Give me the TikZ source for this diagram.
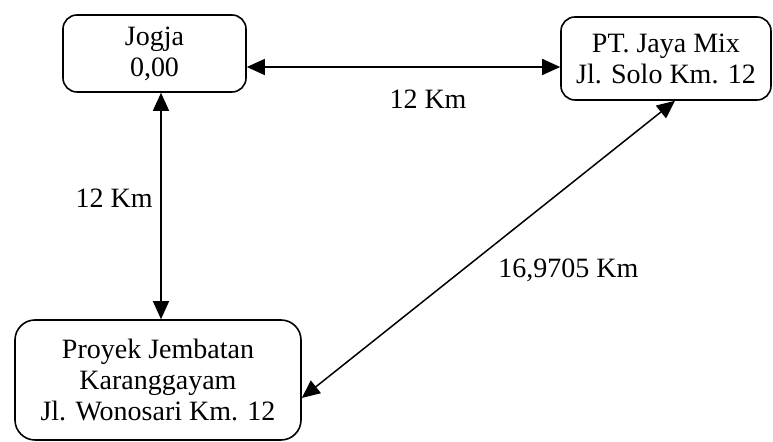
\documentclass[tikz,border=0pt]{standalone}
\usepackage{fontspec}
\setmainfont{Liberation Serif}
\usetikzlibrary{arrows.meta}
\begin{document}
\begin{tikzpicture}[x=0.5pt,y=-0.5pt,
  place/.style={draw, line width=0.8pt, rounded corners=7pt, align=center,
    inner sep=0pt, font=\fontsize{14}{15.5}\selectfont},
  link/.style={line width=0.75pt, {Triangle[length=9pt,width=8pt]}-{Triangle[length=9pt,width=8pt]}},
  dist/.style={font=\fontsize{14}{16}\selectfont, inner sep=0pt}]
\useasboundingbox (0,0) rectangle (773,442);

% locations
\node[place, minimum width=91.5pt, minimum height=38.5pt] (jogja) at (154.5,53.5) {Jogja\\0,00};
\node[place, minimum width=105pt, minimum height=41.5pt] (pt) at (666,58.5) {PT. Jaya Mix\\Jl. Solo Km. 12};
\node[place, rounded corners=10pt, minimum width=143pt, minimum height=60pt] (proyek) at (158,380)
  {Proyek Jembatan\\Karanggayam\\Jl. Wonosari Km. 12};

% connections
\draw[link] (jogja.east |- 0,67) -- (pt.west |- 0,67);
\draw[link] (161,0 |- jogja.south) -- (161,0 |- proyek.north);
\draw[link] (proyek.east |- 0,398) -- (675,0 |- pt.south);

% distances
\node[dist, anchor=base] (d1) at (428,109) {12 Km};
\node[dist, anchor=base east] (d2) at (153,208) {12 Km};
\node[dist, anchor=base west] (d3) at (498,278) {16,9705 Km};
\end{tikzpicture}
\end{document}
